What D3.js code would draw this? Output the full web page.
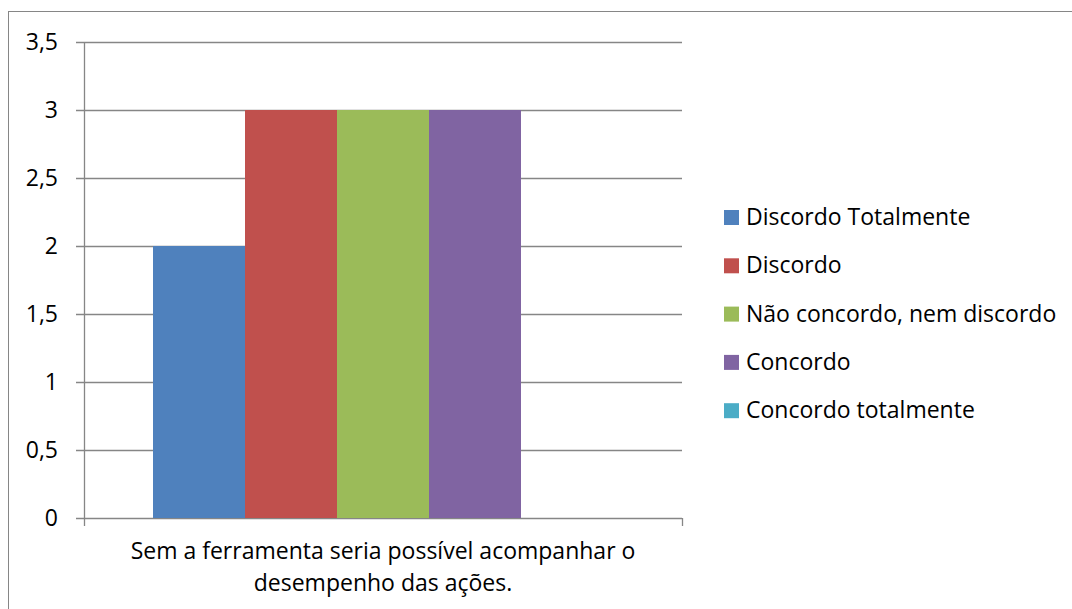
<!DOCTYPE html>
<html>
<head>
<meta charset="utf-8">
<script src="https://cdn.jsdelivr.net/npm/d3@7"></script>
<style>
  body { margin: 0; background: #fff; }
  svg { display: block; font-family: "Open Sans", sans-serif; }
</style>
</head>
<body>
<svg id="canvas" width="1072" height="609"></svg>
<script>
// data
const category = ["Sem a ferramenta seria possível acompanhar o", "desempenho das ações."];
const seriesNames = ["Discordo Totalmente", "Discordo", "Não concordo, nem discordo", "Concordo", "Concordo totalmente"];
const seriesValues = [2, 3, 3, 3, 0];
const seriesColors = ["#4F81BD", "#C0504D", "#9BBB59", "#8064A2", "#4BACC6"];
const yTicks = [0, 0.5, 1, 1.5, 2, 2.5, 3, 3.5];

let canvas = d3.select("#canvas");
const fontSize = 23;

// outer frame (runs off the right and bottom)
canvas.append("rect")
  .attr("x", 8.5).attr("y", 11.5)
  .attr("width", 1100).attr("height", 700)
  .attr("fill", "none")
  .attr("stroke", "#868686")
  .attr("stroke-width", 1);

const plotLeft = 84, plotRight = 682, plotTop = 42, plotBottom = 518;

let y = d3.scaleLinear().domain([0, 3.5]).range([plotBottom, plotTop]);

// bars sit in one category slot, gap of 0.75 bar on each side
let x = d3.scaleBand()
  .domain(seriesNames)
  .range([plotLeft, plotRight])
  .paddingInner(0)
  .paddingOuter(0.75);

// gridlines
canvas.append("g")
  .selectAll("line")
  .data(yTicks)
  .enter()
  .append("line")
  .attr("x1", plotLeft - 8)
  .attr("x2", plotRight)
  .attr("y1", (d) => Math.round(y(d)) + 0.5)
  .attr("y2", (d) => Math.round(y(d)) + 0.5)
  .attr("stroke", "#868686")
  .attr("stroke-width", 1.3);

// tick labels
canvas.append("g")
  .selectAll("text")
  .data(yTicks)
  .enter()
  .append("text")
  .attr("x", 58)
  .attr("y", (d) => y(d) + 8)
  .attr("text-anchor", "end")
  .attr("font-size", fontSize)
  .attr("fill", "#000")
  .text((d) => String(d).replace(".", ","));

// bars
canvas.append("g")
  .selectAll("rect")
  .data(seriesValues)
  .enter()
  .append("rect")
  .attr("x", (d, i) => x(seriesNames[i]))
  .attr("y", (d) => y(d))
  .attr("width", x.bandwidth())
  .attr("height", (d) => plotBottom - y(d))
  .attr("fill", (d, i) => seriesColors[i]);

// axis lines
canvas.append("line")
  .attr("x1", plotLeft + 0.5).attr("x2", plotLeft + 0.5)
  .attr("y1", plotTop).attr("y2", plotBottom + 8)
  .attr("stroke", "#868686").attr("stroke-width", 1.3);
canvas.append("line")
  .attr("x1", plotRight + 0.5).attr("x2", plotRight + 0.5)
  .attr("y1", plotBottom).attr("y2", plotBottom + 8)
  .attr("stroke", "#868686").attr("stroke-width", 1.3);

// category label, wrapped on two lines
canvas.append("g")
  .selectAll("text")
  .data(category)
  .enter()
  .append("text")
  .attr("x", (plotLeft + plotRight) / 2)
  .attr("y", (d, i) => 559 + i * 32)
  .attr("text-anchor", "middle")
  .attr("font-size", fontSize)
  .attr("fill", "#000")
  .text((d) => d);

// legend
let legend = canvas.append("g")
  .selectAll("g")
  .data(seriesNames)
  .enter()
  .append("g")
  .attr("transform", (d, i) => "translate(724," + (217 + i * 48.3) + ")");

legend.append("rect")
  .attr("x", 0).attr("y", -7)
  .attr("width", 15).attr("height", 15)
  .attr("fill", (d, i) => seriesColors[i]);

legend.append("text")
  .attr("x", 22)
  .attr("y", 8)
  .attr("font-size", fontSize)
  .attr("fill", "#000")
  .text((d) => d);
</script>
</body>
</html>
